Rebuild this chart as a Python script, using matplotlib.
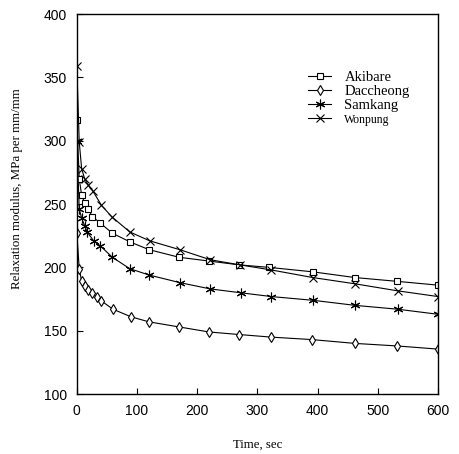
import matplotlib
matplotlib.use("Agg")
import matplotlib.pyplot as plt

# Relaxation modulus (MPa per mm/mm) vs time (sec)
t_akibare = [0, 4, 8, 13, 19, 26, 39, 59, 89, 120, 170, 220, 270, 320, 392, 462, 532, 600]
akibare = [316, 270, 257, 251, 246, 240, 235, 227, 220, 214, 208, 205, 202, 200, 196.5, 192, 189, 186]

t_daccheong = [0, 4, 8, 13, 19, 26, 33, 41, 60, 90, 120, 170, 220, 270, 322, 391, 462, 532, 600]
daccheong = [227, 199, 189, 185, 182, 179.5, 176.5, 173.5, 167, 161, 157, 153, 149, 147, 145, 143, 140, 138, 135.5]

t_samkang = [0, 4, 8, 13, 17, 28, 39, 59, 88, 120, 171, 222, 272, 323, 393, 463, 533, 600]
samkang = [300, 246, 239, 233, 228, 221, 217, 208, 199, 194, 188, 183, 180, 177, 174, 170, 167, 163]

t_wonpung = [0, 4, 8, 13, 19, 27, 41, 58, 88, 121, 171, 222, 271, 323, 392, 463, 533, 600]
wonpung = [359, 299, 278, 270, 265, 260, 249, 240, 228, 221, 214, 206, 202, 198, 192, 187, 181.5, 177]

serif = ["Liberation Serif", "DejaVu Serif"]
sans = ["Liberation Sans", "DejaVu Sans"]

fig = plt.figure(figsize=(4.6, 4.54), dpi=100)
ax = fig.add_axes([0.167, 0.132, 0.785, 0.837])

style = dict(color="black", lw=0.8, mfc="white", mec="black", mew=0.8)
ax.plot(t_akibare, akibare, marker="s", ms=5, label="Akibare", **style)
ax.plot(t_daccheong, daccheong, marker="d", ms=5, label="Daccheong", **style)
ax.plot(t_samkang, samkang, marker=(6, 2, 0), ms=7, label="Samkang", **style)
ax.plot(t_wonpung, wonpung, marker="x", ms=6, label="Wonpung", **style)

ax.set_xlim(0, 600)
ax.set_ylim(100, 400)
ax.set_xticks(range(0, 601, 100))
ax.set_yticks(range(100, 401, 50))
ax.tick_params(direction="in", length=4, width=0.8, top=False, right=False, pad=7)
for lab in ax.get_xticklabels() + ax.get_yticklabels():
    lab.set_family(sans)
    lab.set_fontsize(10)
for s in ax.spines.values():
    s.set_linewidth(1.0)

ax.set_xlabel("Time, sec", family=serif, fontsize=9.3, labelpad=15)
ax.set_ylabel("Relaxation modulus, MPa per mm/mm", family=serif, fontsize=9.3)
ax.yaxis.set_label_coords(-0.15, 0.54)

leg = ax.legend(loc="upper left", bbox_to_anchor=(0.62, 0.87), frameon=False,
                prop={"family": serif, "size": 10.5}, handlelength=1.6,
                handletextpad=0.9, labelspacing=0.05, borderpad=0)
leg.get_texts()[3].set_fontsize(8.5)

fig.savefig("out.png", dpi=100)
